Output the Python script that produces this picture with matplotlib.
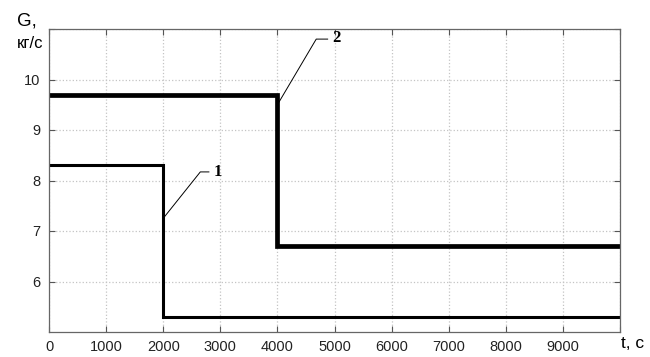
import numpy as np
import matplotlib.pyplot as plt

# step curves: time (s) and flow rate G (kg/s)
t1 = [0, 2000, 2000, 10000]
g1 = [8.3, 8.3, 5.3, 5.3]
t2 = [0, 4000, 4000, 10000]
g2 = [9.7, 9.7, 6.7, 6.7]

xticks = [0, 1000, 2000, 3000, 4000, 5000, 6000, 7000, 8000, 9000]
yticks = [6, 7, 8, 9, 10]

plt.rcParams['font.family'] = ['Liberation Sans', 'DejaVu Sans']

fig = plt.figure(figsize=(6.5, 3.57), dpi=100)
ax = fig.add_axes([49/650, 25/357, 571/650, 303/357])

ax.plot(t1, g1, color='black', lw=2.2, solid_joinstyle='miter')
ax.plot(t2, g2, color='black', lw=3.4, solid_joinstyle='miter')

ax.set_xlim(0, 10000)
ax.set_ylim(5, 11)
ax.set_xticks(xticks + [10000])
ax.set_xticklabels([str(v) for v in xticks] + [''])
ax.set_yticks(yticks + [11])
ax.set_yticklabels([str(v) for v in yticks] + [''])
ax.tick_params(direction='in', top=True, right=True, length=4,
               color='#555555', labelsize=10.5, pad=6, labelcolor='#222222')
ax.grid(True, linestyle=':', color='#c4c4c4', lw=0.9)
for s in ax.spines.values():
    s.set_color('#666666')
    s.set_linewidth(0.9)

# leader lines with labels
ax.plot([2000, 2650, 2800], [7.25, 8.17, 8.17], color='black', lw=0.7)
ax.text(2880, 8.17, '1', family='Liberation Serif', fontsize=12,
        fontweight='bold', va='center', ha='left')
ax.plot([4000, 4680, 4880], [9.5, 10.8, 10.8], color='black', lw=0.7)
ax.text(4960, 10.82, '2', family='Liberation Serif', fontsize=12,
        fontweight='bold', va='center', ha='left')

fig.text(17/650, 1 - 21/357, 'G,', fontsize=13.5, va='center', ha='left')
fig.text(17/650, 1 - 43/357, 'кг/с', fontsize=12, va='center', ha='left')
fig.text(621/650, 1 - 343/357, 't, c', fontsize=12.5, va='center', ha='left')

fig.savefig('out.png', dpi=100)
